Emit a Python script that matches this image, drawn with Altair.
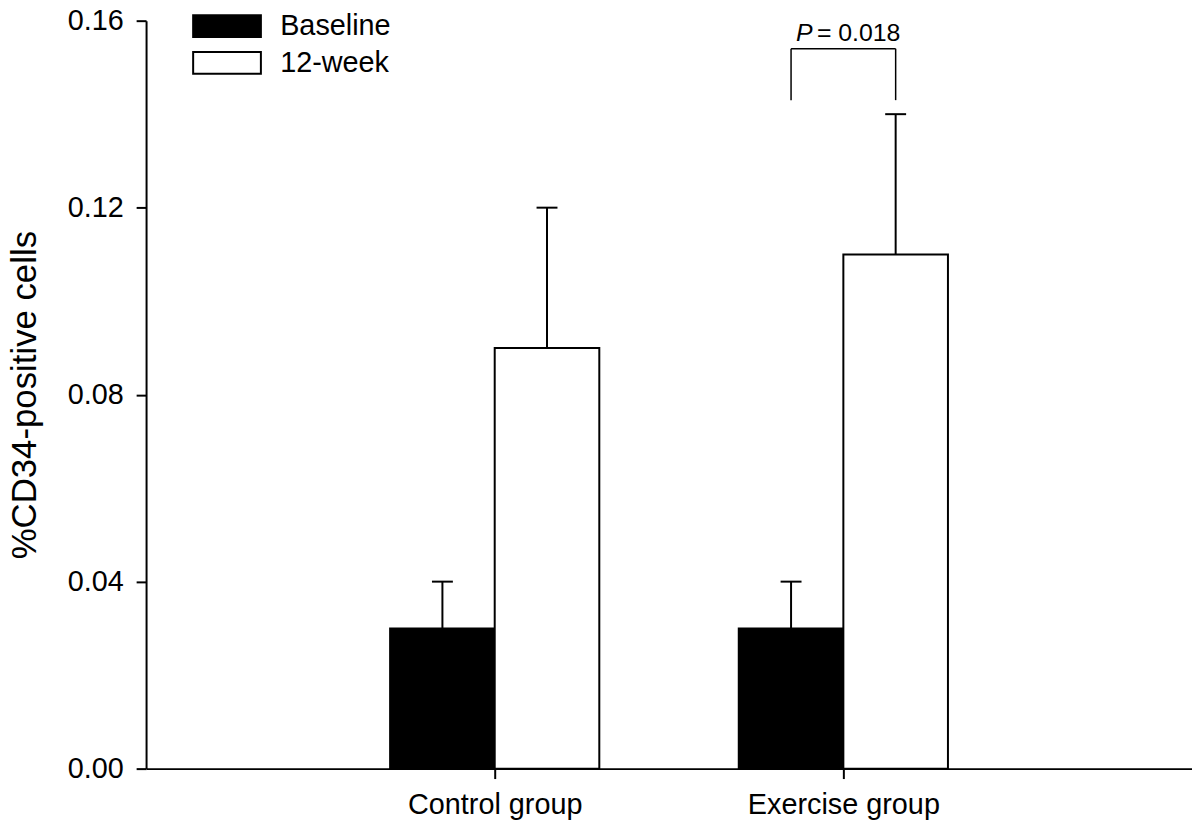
import altair as alt
import pandas as pd

# ---- data ----
groups = ["Control group", "Exercise group"]
group_pos = [1, 2]
series = ["Baseline", "12-week"]
baseline_mean = [0.03, 0.03]
baseline_upper = [0.04, 0.04]
week12_mean = [0.09, 0.11]
week12_upper = [0.12, 0.14]
y_ticks = [0.0, 0.04, 0.08, 0.12, 0.16]

# significance annotation (exercise group)
sig_group = 2
sig_low = 0.143
sig_high = 0.154
sig_p = "= 0.018"

BAR_W = 0.3
CAP_HALF = 0.03
FONT = "Liberation Sans"

rows = []
for g, p, bm, bu, wm, wu in zip(groups, group_pos, baseline_mean, baseline_upper,
                                week12_mean, week12_upper):
    rows.append({"group": g, "pos": p, "series": series[0], "side": -1, "mean": bm, "upper": bu})
    rows.append({"group": g, "pos": p, "series": series[1], "side": 1, "mean": wm, "upper": wu})
df = pd.DataFrame(rows)

sig_df = pd.DataFrame({"pos": [sig_group], "low": [sig_low], "high": [sig_high], "label": [sig_p]})

xscale = alt.Scale(domain=[0, 3], nice=False, zero=False)
yscale = alt.Scale(domain=[0, 0.16], nice=False)

label_expr = " : ".join(
    [f"datum.value == {p} ? '{g}'" for p, g in zip(group_pos, groups)]
) + " : ''"

base = alt.Chart(df).transform_calculate(
    x0=f"datum.pos + (datum.side < 0 ? -{BAR_W} : 0)",
    x1=f"datum.pos + (datum.side < 0 ? 0 : {BAR_W})",
    xc=f"datum.pos + datum.side * {BAR_W / 2}",
    c0=f"datum.pos + datum.side * {BAR_W / 2} - {CAP_HALF}",
    c1=f"datum.pos + datum.side * {BAR_W / 2} + {CAP_HALF}",
)

bars = base.mark_bar(stroke="black", strokeWidth=2).encode(
    x=alt.X("x0:Q", scale=xscale,
            axis=alt.Axis(values=group_pos, labelExpr=label_expr, title=None, grid=False,
                          domainColor="black", domainWidth=2, tickColor="black",
                          tickWidth=2, tickSize=10, labelFont=FONT, labelFontSize=29,
                          labelColor="black", labelPadding=12, labelLimit=500)),
    x2="x1:Q",
    y=alt.Y("mean:Q", scale=yscale,
            axis=alt.Axis(values=y_ticks, format=".2f", title="%CD34-positive cells",
                          grid=False, domainColor="black", domainWidth=2,
                          tickColor="black", tickWidth=2, tickSize=10,
                          labelFont=FONT, labelFontSize=29, labelColor="black",
                          labelPadding=13, titleFont=FONT, titleFontSize=35,
                          titleFontWeight="normal", titleColor="black", titlePadding=25)),
    y2=alt.datum(0),
    fill=alt.Fill("series:N",
                  scale=alt.Scale(domain=series, range=["black", "white"]),
                  legend=alt.Legend(title=None, orient="none", legendX=67, legendY=-9,
                                    symbolType="M-3.1,-1H3.1V1H-3.1Z", symbolSize=484,
                                    symbolStrokeColor="black", symbolStrokeWidth=2,
                                    labelFont=FONT, labelFontSize=29, labelColor="black",
                                    labelOffset=39, rowPadding=6, padding=0)),
)

err = base.mark_rule(color="black", strokeWidth=2).encode(
    x="xc:Q", y="mean:Q", y2="upper:Q"
)
caps = base.mark_rule(color="black", strokeWidth=2).encode(
    x="c0:Q", x2="c1:Q", y="upper:Q"
)

sig = alt.Chart(sig_df).transform_calculate(
    xl=f"datum.pos - {BAR_W / 2}",
    xr=f"datum.pos + {BAR_W / 2}",
)
leg_l = sig.mark_rule(color="black", strokeWidth=1.5).encode(x="xl:Q", y="low:Q", y2="high:Q")
leg_r = sig.mark_rule(color="black", strokeWidth=1.5).encode(x="xr:Q", y="low:Q", y2="high:Q")
top = sig.mark_rule(color="black", strokeWidth=1.5).encode(x="xl:Q", x2="xr:Q", y="high:Q")
p_txt = sig.mark_text(text="P", font=FONT, fontSize=25, fontStyle="italic",
                      align="left", baseline="alphabetic", dx=5, dy=-8, color="black").encode(
    x="xl:Q", y="high:Q")
v_txt = sig.mark_text(font=FONT, fontSize=25, align="left", baseline="alphabetic",
                      dx=26, dy=-8, color="black").encode(
    x="xl:Q", y="high:Q", text="label:N")

chart = alt.layer(bars, err, caps, leg_l, leg_r, top, p_txt, v_txt).properties(
    width=1053, height=753,
    background="white",
    autosize=alt.AutoSizeParams(type="none"),
    padding={"left": 139, "top": 10, "right": 0, "bottom": 55},
).configure_view(stroke="transparent", strokeWidth=0).configure_axis(grid=False)

chart.save("out.html", embed_options={"renderer": "svg", "actions": False})
